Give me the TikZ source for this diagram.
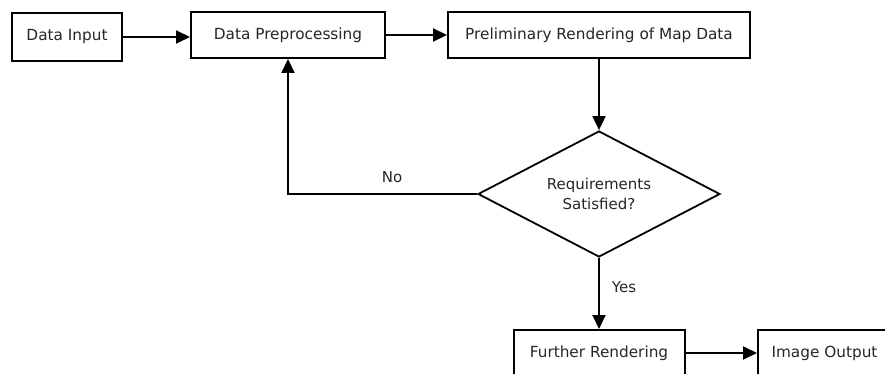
\documentclass[tikz,border=0pt]{standalone}
\usepackage{fontspec}
\setmainfont{DejaVu Sans}
\usetikzlibrary{shapes.geometric,arrows.meta}
\begin{document}
\begin{tikzpicture}[x=1pt,y=-1pt,
  box/.style={draw=black,line width=2pt,fill=white,inner sep=0pt,
    font=\fontsize{15.3}{18}\selectfont,text=black!85},
  dec/.style={draw=black,line width=1.8pt,diamond,aspect=1.92,inner sep=0pt,
    minimum width=242pt,minimum height=126pt,align=center,
    font=\fontsize{15}{20}\selectfont,text=black!85},
  conn/.style={draw=black,line width=2pt,-{Triangle[length=14pt,width=13pt]}},
  lab/.style={font=\fontsize{15}{18}\selectfont,text=black!85,inner sep=0pt}]
\clip (0,0) rectangle (885,374);
\fill[white] (0,0) rectangle (885,374);
\node[box,minimum width=110pt,minimum height=48pt] (in) at (67,37) {Data Input};
\node[box,minimum width=194pt,minimum height=46pt] (pre) at (288,35) {Data Preprocessing};
\node[box,minimum width=302pt,minimum height=46pt] (prel) at (599,35) {Preliminary Rendering of Map Data};
\node[dec] (dia) at (599,194) {Requirements\\Satisfied?};
\node[box,minimum width=171pt,minimum height=46pt] (fr) at (599,353) {Further Rendering};
\node[box,minimum width=133pt,minimum height=46pt] (out) at (824.5,353) {Image Output};
\draw[conn] (in.east) -- (in.east -| pre.west);
\draw[conn] (pre.east) -- (prel.west);
\draw[conn] (prel.south) -- (dia.north);
\draw[conn] (dia.west) -| (pre.south);
\node[lab] (no) at (392,177) {No};
\draw[conn] (dia.south) -- (fr.north);
\node[lab] (yes) at (624,287) {Yes};
\draw[conn] (fr.east) -- (out.west);
\end{tikzpicture}
\end{document}
